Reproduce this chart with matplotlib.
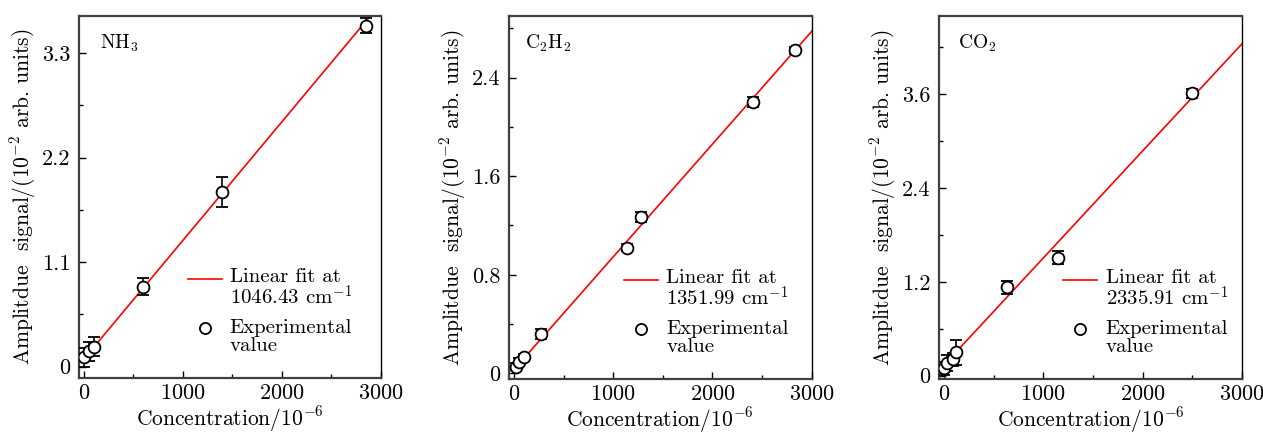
import numpy as np
import matplotlib
matplotlib.use("Agg")
import matplotlib.pyplot as plt
from matplotlib.ticker import MultipleLocator

plt.rcParams['font.family'] = 'serif'
plt.rcParams['font.serif'] = ['cmr10']
plt.rcParams['mathtext.fontset'] = 'cm'
plt.rcParams['axes.formatter.use_mathtext'] = True
plt.rcParams['font.size'] = 15

# NH3
nh3_x = [0, 47, 100, 600, 1400, 2855]
nh3_y = [0.10, 0.16, 0.21, 0.84, 1.84, 3.59]
nh3_err = [0.10, 0.10, 0.10, 0.09, 0.16, 0.08]
nh3_fit = (0.001248, 0.08)

# C2H2
c2h2_x = [23, 53, 100, 268, 1138, 1279, 2413, 2830]
c2h2_y = [0.054, 0.094, 0.13, 0.32, 1.02, 1.27, 2.20, 2.62]
c2h2_err = [0.03, 0.03, 0.03, 0.04, 0.03, 0.04, 0.04, 0.03]
c2h2_fit = (0.000915, 0.03)

# CO2
co2_x = [3, 33, 88, 121, 632, 1152, 2500]
co2_y = [0.094, 0.16, 0.21, 0.30, 1.13, 1.51, 3.61]
co2_err = [0.08, 0.10, 0.08, 0.16, 0.08, 0.08, 0.06]
co2_fit = (0.001368, 0.137)

panels = [
    dict(gas=r'NH$_3$', x=nh3_x, y=nh3_y, err=nh3_err, fit=nh3_fit,
         wn='1046.43', ylim=(-0.12, 3.69), ymaj=1.1, fit_x0=0, gx=0.07,
         leg=(0.361, 0.474, 0.417, 0.50),
         pos=[0.0625, 0.129, 0.239, 0.834]),
    dict(gas=r'C$_2$H$_2$', x=c2h2_x, y=c2h2_y, err=c2h2_err, fit=c2h2_fit,
         wn='1351.99', ylim=(-0.046, 2.898), ymaj=0.8, fit_x0=10, gx=0.053,
         leg=(0.38, 0.492, 0.436, 0.519),
         pos=[0.403, 0.1267, 0.2397, 0.836]),
    dict(gas=r'CO$_2$', x=co2_x, y=co2_y, err=co2_err, fit=co2_fit,
         wn='2335.91', ylim=(-0.042, 4.597), ymaj=1.2, fit_x0=0, gx=0.063,
         leg=(0.411, 0.523, 0.466, 0.551),
         pos=[0.7435, 0.1267, 0.2397, 0.836]),
]

fig = plt.figure(figsize=(12.63, 4.34), dpi=100)

for p in panels:
    ax = fig.add_axes(p['pos'])
    xf = np.array([p['fit_x0'], 3000])
    ax.plot(xf, p['fit'][0] * xf + p['fit'][1], color='red', lw=1.2)
    ax.errorbar(p['x'], p['y'], yerr=p['err'], fmt='o', mfc='white', mec='black',
                ms=8.5, mew=1.3, ecolor='black', elinewidth=1.2, capsize=4,
                capthick=1.2, zorder=3)
    ax.set_xlim(-50, 3000)
    ax.set_ylim(*p['ylim'])
    ax.xaxis.set_major_locator(MultipleLocator(1000))
    ax.xaxis.set_minor_locator(MultipleLocator(500))
    ax.yaxis.set_major_locator(MultipleLocator(p['ymaj']))
    ax.yaxis.set_minor_locator(MultipleLocator(p['ymaj'] / 2))
    ax.yaxis.set_major_formatter(plt.FuncFormatter(lambda v, _: '0' if abs(v) < 1e-9 else f'{v:.1f}'))
    ax.tick_params(which='both', direction='in', top=False, right=False, labelsize=16)
    ax.tick_params(which='major', length=5, width=1)
    ax.tick_params(which='minor', length=3, width=1)
    ax.tick_params(axis='y', pad=6)
    ax.tick_params(axis='x', pad=4)
    for s in ['left', 'top', 'bottom']:
        ax.spines[s].set_linewidth(1.6)
        ax.spines[s].set_color('#404040')
    ax.spines['right'].set_linewidth(1.0)
    ax.text(p['gx'], 0.925, p['gas'], transform=ax.transAxes, fontsize=14,
            va='center', ha='left')
    ax.set_xlabel(r'Concentration/10$^{-6}$', fontsize=15.5, labelpad=0.5)
    ax.set_ylabel(r'Amplitdue  signal/(10$^{-2}$ arb. units)', fontsize=15.5, labelpad=3)

    # legend drawn by hand so handles sit on the first text line
    lx0, lx1, mx, tx = p['leg']
    ax.plot([lx0, lx1], [0.273, 0.273], color='red', lw=1.2, transform=ax.transAxes)
    ax.plot([mx], [0.138], ls='none', marker='o', mfc='white', mec='black', ms=8,
            mew=1.3, transform=ax.transAxes)
    ax.text(tx, 0.2017, 'Linear fit at\n' + p['wn'] + r' cm$^{-1}$', transform=ax.transAxes,
            va='baseline', fontsize=15, linespacing=0.95)
    ax.text(tx, 0.0754, 'Experimental\nvalue', transform=ax.transAxes,
            va='baseline', fontsize=15, linespacing=0.95)

fig.savefig('out.png', dpi=100)
